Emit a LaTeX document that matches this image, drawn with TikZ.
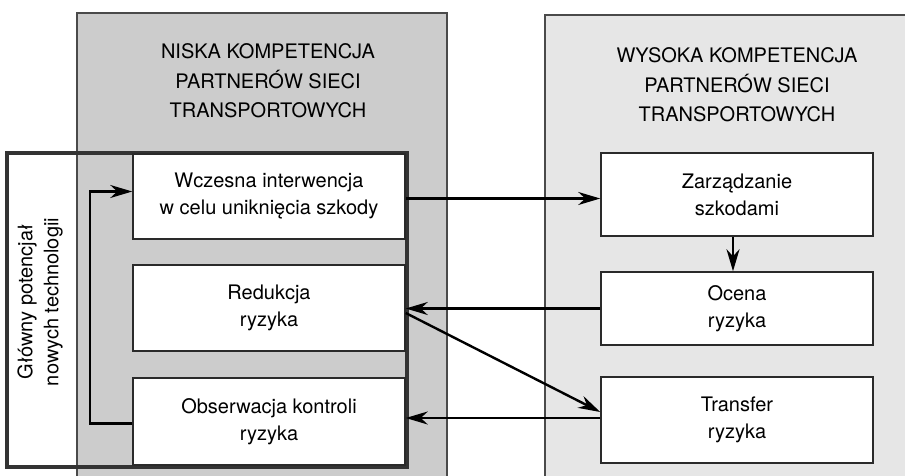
\documentclass[tikz,border=0pt]{standalone}
\usepackage{fontspec}
\setmainfont{TeX Gyre Heros}
\usepackage{tikz}
\usetikzlibrary{arrows.meta,positioning}

\definecolor{lowpanel}{HTML}{CCCCCC}
\definecolor{highpanel}{HTML}{E6E6E6}
\definecolor{panelline}{HTML}{4A4A4A}
\definecolor{boxline}{HTML}{2A2A2A}
\definecolor{frameline}{HTML}{333333}

\newcommand{\boxfont}{\fontsize{20}{27}\selectfont}
\newcommand{\titlefont}{\fontsize{20}{29.5}\selectfont}

\begin{document}
\begin{tikzpicture}[x=1pt, y=-1pt,
  stepbox/.style={draw=boxline, fill=white, line width=1.5pt, align=center,
    font=\boxfont, minimum width=272pt, inner sep=0pt},
  flow/.style={-{Stealth[length=22pt,width=13pt,inset=7pt]}, line width=2.4pt, black},
  paneltitle/.style={align=center, font=\titlefont}]

\useasboundingbox (0,0) rectangle (905,476);

% ---- competence panels -----------------------------------------------------
\fill[lowpanel]  (77,13) rectangle (447,476);
\fill[highpanel] (545,15) rectangle (905,476);
\draw[panelline,line width=1.3pt] (77,476) -- (77,13) -- (447,13) -- (447,476);
\draw[panelline,line width=1.3pt] (545,476) -- (545,15) -- (905,15);

\node[paneltitle] (lowtitle)  at (268,81)
  {NISKA KOMPETENCJA\\PARTNERÓW SIECI\\TRANSPORTOWYCH};
\node[paneltitle] (hightitle) at (737,85)
  {WYSOKA KOMPETENCJA\\PARTNERÓW SIECI\\TRANSPORTOWYCH};

% ---- technology frame ------------------------------------------------------
\draw[frameline,line width=3.5pt] (7,153) rectangle (407,467);
\node[rotate=90, align=center, font=\fontsize{20}{26}\selectfont] (potential)
  at (40,302) {Główny potencjał\\nowych technologii};

% ---- measures --------------------------------------------------------------
\node[stepbox, minimum height=85pt] (early)   at (269,196.5)
  {Wczesna interwencja\\w celu uniknięcia szkody};
\node[stepbox, minimum height=86pt] (reduce)  at (269,308)
  {Redukcja\\ryzyka};
\node[stepbox, minimum height=87pt] (observe) at (269,421.5)
  {Obserwacja kontroli\\ryzyka};

\node[stepbox, minimum height=83pt] (damage)   at (737,194.5)
  {Zarządzanie\\szkodami};
\node[stepbox, minimum height=73pt] (assess)   at (737,308.5)
  {Ocena\\ryzyka};
\node[stepbox, minimum height=86pt] (transfer) at (737,420)
  {Transfer\\ryzyka};

% ---- flows -----------------------------------------------------------------
\draw[flow] ([yshift=-2pt]early.east) -- ([yshift=-2pt]early.east -| damage.west);
\draw[flow] ([xshift=-4pt]damage.south) -- ([xshift=-4pt]assess.north);
\draw[flow] (assess.west) -- (assess.west -| reduce.east);
\draw[flow] ([yshift=-5pt]reduce.east) -- ([yshift=8pt]transfer.west);
\draw[flow] ([yshift=2pt]transfer.west) -- ([yshift=2pt]transfer.west -| observe.east);
\draw[flow] ([yshift=-2pt]observe.west) -- ++(-42,0) |- ([yshift=5pt]early.west);

\end{tikzpicture}
\end{document}
